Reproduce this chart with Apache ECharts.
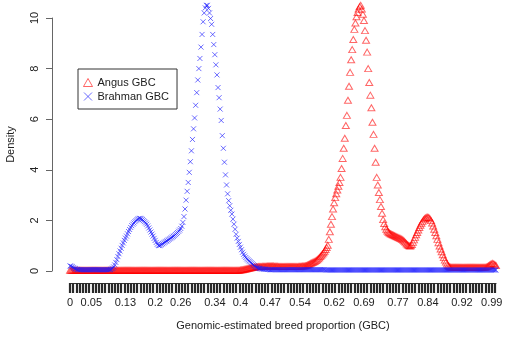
<!DOCTYPE html>
<html>
<head>
<meta charset="utf-8">
<script src="https://cdn.jsdelivr.net/npm/echarts@6/dist/echarts.min.js"></script>
<style>html,body{margin:0;padding:0;background:#fff}#c{width:505px;height:338px}</style>
</head>
<body>
<div id="c"></div>
<script>
// x tick label positions (value axis)
const xTickLabels = [0, 0.05, 0.13, 0.2, 0.26, 0.34, 0.4, 0.47, 0.54, 0.62, 0.69, 0.77, 0.84, 0.92, 0.99];
const yTicks = [0, 2, 4, 6, 8, 10];
// rug-like axis ticks every 0.0075
const rugStep = 0.0075, rugCount = 134;
const rugTicks = [];
for (let k = 0; k < rugCount; k++) rugTicks.push(+(k * rugStep).toFixed(4));

// Angus GBC density [x, y]
const angus = [
[0,0.03],[0.0025,0.03],[0.005,0.03],[0.0075,0.03],[0.01,0.03],[0.0125,0.03],[0.015,0.03],[0.0175,0.03],[0.02,0.03],[0.0225,0.03],
[0.025,0.03],[0.0275,0.03],[0.03,0.03],[0.0325,0.03],[0.035,0.03],[0.0375,0.03],[0.04,0.03],[0.0425,0.03],[0.045,0.03],[0.0475,0.03],
[0.05,0.03],[0.0525,0.03],[0.055,0.03],[0.0575,0.03],[0.06,0.03],[0.0625,0.03],[0.065,0.03],[0.0675,0.03],[0.07,0.03],[0.0725,0.03],
[0.075,0.03],[0.0775,0.03],[0.08,0.03],[0.0825,0.03],[0.085,0.03],[0.0875,0.03],[0.09,0.03],[0.0925,0.03],[0.095,0.03],[0.0975,0.03],
[0.1,0.03],[0.1025,0.03],[0.105,0.03],[0.1075,0.03],[0.11,0.03],[0.1125,0.03],[0.115,0.03],[0.1175,0.03],[0.12,0.03],[0.1225,0.03],
[0.125,0.03],[0.1275,0.03],[0.13,0.03],[0.1325,0.03],[0.135,0.03],[0.1375,0.03],[0.14,0.03],[0.1425,0.03],[0.145,0.03],[0.1475,0.03],
[0.15,0.03],[0.1525,0.03],[0.155,0.03],[0.1575,0.03],[0.16,0.03],[0.1625,0.03],[0.165,0.03],[0.1675,0.03],[0.17,0.03],[0.1725,0.03],
[0.175,0.03],[0.1775,0.03],[0.18,0.03],[0.1825,0.03],[0.185,0.03],[0.1875,0.03],[0.19,0.03],[0.1925,0.03],[0.195,0.03],[0.1975,0.03],
[0.2,0.03],[0.2025,0.03],[0.205,0.03],[0.2075,0.03],[0.21,0.03],[0.2125,0.03],[0.215,0.03],[0.2175,0.03],[0.22,0.03],[0.2225,0.03],
[0.225,0.03],[0.2275,0.03],[0.23,0.03],[0.2325,0.03],[0.235,0.03],[0.2375,0.03],[0.24,0.03],[0.2425,0.03],[0.245,0.03],[0.2475,0.03],
[0.25,0.03],[0.2525,0.03],[0.255,0.03],[0.2575,0.03],[0.26,0.03],[0.2625,0.03],[0.265,0.03],[0.2675,0.03],[0.27,0.03],[0.2725,0.03],
[0.275,0.03],[0.2775,0.03],[0.28,0.03],[0.2825,0.03],[0.285,0.03],[0.2875,0.03],[0.29,0.03],[0.2925,0.03],[0.295,0.03],[0.2975,0.03],
[0.3,0.03],[0.3025,0.03],[0.305,0.03],[0.3075,0.03],[0.31,0.03],[0.3125,0.03],[0.315,0.03],[0.3175,0.03],[0.32,0.03],[0.3225,0.03],
[0.325,0.03],[0.3275,0.03],[0.33,0.03],[0.3325,0.03],[0.335,0.03],[0.3375,0.03],[0.34,0.03],[0.3425,0.03],[0.345,0.03],[0.3475,0.03],
[0.35,0.03],[0.3525,0.03],[0.355,0.03],[0.3575,0.03],[0.36,0.03],[0.3625,0.03],[0.365,0.03],[0.3675,0.03],[0.37,0.03],[0.3725,0.03],
[0.375,0.03],[0.3775,0.03],[0.38,0.03],[0.3825,0.03],[0.385,0.03],[0.3875,0.03],[0.39,0.03],[0.3925,0.03],[0.395,0.03],[0.3975,0.03],
[0.4,0.04],[0.4025,0.045],[0.405,0.05],[0.4075,0.06],[0.41,0.07],[0.4125,0.08],[0.415,0.09],[0.4175,0.1],[0.42,0.11],[0.4225,0.12],
[0.425,0.13],[0.4275,0.14],[0.43,0.15],[0.4325,0.155],[0.435,0.16],[0.4375,0.165],[0.44,0.17],[0.4425,0.175],[0.445,0.18],[0.4475,0.18],
[0.45,0.18],[0.4525,0.185],[0.455,0.19],[0.4575,0.19],[0.46,0.19],[0.4625,0.195],[0.465,0.2],[0.4675,0.2],[0.47,0.2],[0.4725,0.2],
[0.475,0.2],[0.4775,0.195],[0.48,0.19],[0.4825,0.19],[0.485,0.19],[0.4875,0.185],[0.49,0.18],[0.4925,0.18],[0.495,0.18],[0.4975,0.18],
[0.5,0.18],[0.5025,0.18],[0.505,0.18],[0.5075,0.18],[0.51,0.18],[0.5125,0.18],[0.515,0.18],[0.5175,0.18],[0.52,0.18],[0.5225,0.18],
[0.525,0.18],[0.5275,0.18],[0.53,0.18],[0.5325,0.18],[0.535,0.18],[0.5375,0.185],[0.54,0.19],
[0.5425,0.19],[0.545,0.2],[0.5475,0.2],[0.55,0.2],[0.5525,0.21],[0.555,0.22],[0.5575,0.24],[0.56,0.26],[0.5625,0.28],[0.565,0.3],
[0.5675,0.32],[0.57,0.34],[0.5725,0.36],[0.575,0.38],[0.5775,0.41],[0.58,0.44],[0.5825,0.48],[0.585,0.52],[0.5875,0.57],[0.59,0.62],
[0.5925,0.67],[0.595,0.72],[0.5975,0.78],[0.6,0.85],[0.6025,0.93],[0.605,1.02],[0.6075,1.25],[0.61,1.55],[0.6125,1.85],[0.615,2.15],
[0.6175,2.45],[0.62,2.7],[0.6225,2.9],[0.625,3.05],[0.6275,3.2],[0.63,3.35],[0.6325,3.5],[0.635,3.7],[0.6375,4.05],[0.64,4.45],
[0.6425,4.85],[0.645,5.25],[0.6475,5.75],[0.65,6.15],[0.6525,6.75],[0.655,7.3],[0.6575,7.85],[0.66,8.35],[0.6625,8.75],[0.665,9.15],
[0.6675,9.55],[0.67,9.8],[0.6725,10.05],[0.675,10.22],[0.6775,10.35],[0.68,10.45],[0.6825,10.5],[0.685,10.35],[0.6875,10.15],[0.69,9.9],
[0.6925,9.5],[0.695,9.12],[0.6975,8.65],[0.7,8.0],[0.7025,7.45],[0.705,6.95],[0.7075,6.45],[0.71,5.88],[0.7125,5.4],[0.715,4.85],
[0.7175,4.3],[0.72,3.7],[0.7225,3.4],[0.725,3.1],[0.7275,2.82],[0.73,2.55],[0.7325,2.28],[0.735,2.03],[0.7375,1.88],[0.74,1.75],
[0.7425,1.65],[0.745,1.58],[0.7475,1.53],[0.75,1.5],[0.7525,1.47],[0.755,1.45],[0.7575,1.43],[0.76,1.41],[0.7625,1.39],[0.765,1.37],
[0.7675,1.35],[0.77,1.33],[0.7725,1.31],[0.775,1.29],[0.7775,1.27],[0.78,1.24],[0.7825,1.21],[0.785,1.17],[0.7875,1.13],[0.79,1.08],
[0.7925,1.04],[0.795,1.01],[0.7975,0.99],[0.8,1.0],[0.8025,1.05],[0.805,1.13],[0.8075,1.23],[0.81,1.33],[0.8125,1.43],[0.815,1.52],
[0.8175,1.62],[0.82,1.72],[0.8225,1.81],[0.825,1.89],[0.8275,1.96],[0.83,2.02],[0.8325,2.07],[0.835,2.1],[0.8375,2.12],[0.84,2.13],
[0.8425,2.11],[0.845,2.06],[0.8475,1.99],[0.85,1.9],[0.8525,1.78],[0.855,1.65],[0.8575,1.52],[0.86,1.39],[0.8625,1.25],[0.865,1.12],
[0.8675,0.99],[0.87,0.87],[0.8725,0.76],[0.875,0.64],[0.8775,0.53],[0.88,0.43],[0.8825,0.35],[0.885,0.28],[0.8875,0.22],[0.89,0.18],
[0.8925,0.16],[0.895,0.15],[0.8975,0.15],[0.9,0.15],[0.9025,0.15],[0.905,0.15],[0.9075,0.15],[0.91,0.15],[0.9125,0.15],[0.915,0.15],
[0.9175,0.15],[0.92,0.15],[0.9225,0.15],[0.925,0.15],[0.9275,0.15],[0.93,0.15],[0.9325,0.15],[0.935,0.15],[0.9375,0.15],[0.94,0.15],
[0.9425,0.15],[0.945,0.15],[0.9475,0.15],[0.95,0.15],[0.9525,0.15],[0.955,0.15],[0.9575,0.15],[0.96,0.15],[0.9625,0.15],[0.965,0.15],
[0.9675,0.15],[0.97,0.15],[0.9725,0.15],[0.975,0.15],[0.9775,0.16],[0.98,0.18],
[0.9825,0.21],[0.985,0.24],[0.9875,0.27],[0.99,0.29],[0.9925,0.3],[0.995,0.28],[0.9975,0.25],[1,0.22]
];

// Brahman GBC density [x, y]
const brahman = [
[0,0.2],[0.0025,0.19],[0.005,0.17],[0.0075,0.14],[0.01,0.11],[0.0125,0.09],[0.015,0.07],[0.0175,0.06],[0.02,0.05],[0.0225,0.05],
[0.025,0.05],[0.0275,0.05],[0.03,0.05],[0.0325,0.05],[0.035,0.05],[0.0375,0.05],[0.04,0.05],[0.0425,0.05],[0.045,0.05],[0.0475,0.05],
[0.05,0.05],[0.0525,0.05],[0.055,0.05],[0.0575,0.05],[0.06,0.05],[0.0625,0.05],[0.065,0.05],[0.0675,0.05],[0.07,0.05],[0.0725,0.05],
[0.075,0.05],[0.0775,0.05],[0.08,0.05],[0.0825,0.05],[0.085,0.05],[0.0875,0.05],[0.09,0.05],
[0.0925,0.05],[0.095,0.06],[0.0975,0.08],[0.1,0.11],[0.1025,0.16],[0.105,0.24],[0.1075,0.34],[0.11,0.45],[0.1125,0.57],[0.115,0.68],
[0.1175,0.79],[0.12,0.9],[0.1225,1.01],[0.125,1.11],[0.1275,1.21],[0.13,1.3],[0.1325,1.38],[0.135,1.47],[0.1375,1.56],[0.14,1.64],
[0.1425,1.72],[0.145,1.79],[0.1475,1.85],[0.15,1.9],[0.1525,1.95],[0.155,1.99],[0.1575,2.03],[0.16,2.06],[0.1625,2.08],[0.165,2.08],
[0.1675,2.06],[0.17,2.03],[0.1725,1.99],[0.175,1.95],[0.1775,1.9],[0.18,1.85],[0.1825,1.78],[0.185,1.7],[0.1875,1.62],[0.19,1.54],
[0.1925,1.46],[0.195,1.38],[0.1975,1.29],[0.2,1.21],[0.2025,1.13],[0.205,1.06],[0.2075,1.01],[0.21,1.0],[0.2125,1.02],[0.215,1.05],
[0.2175,1.08],[0.22,1.11],[0.2225,1.14],[0.225,1.17],[0.2275,1.19],[0.23,1.22],[0.2325,1.25],[0.235,1.28],[0.2375,1.31],[0.24,1.34],
[0.2425,1.37],[0.245,1.4],[0.2475,1.44],[0.25,1.48],[0.2525,1.52],[0.255,1.57],[0.2575,1.62],[0.26,1.68],[0.2625,1.77],[0.265,1.92],
[0.2675,2.15],[0.27,2.45],[0.2725,2.8],[0.275,3.15],[0.2775,3.5],[0.28,3.9],[0.2825,4.32],[0.285,4.75],[0.2875,5.2],[0.29,5.62],
[0.2925,6.05],[0.295,6.55],[0.2975,7.05],[0.3,7.55],[0.3025,8.0],[0.305,8.4],[0.3075,8.85],[0.31,9.35],[0.3125,9.85],[0.315,10.2],
[0.3175,10.4],[0.32,10.5],[0.3225,10.5],[0.325,10.38],[0.3275,10.2],[0.33,9.98],[0.3325,9.75],[0.335,9.35],[0.3375,8.95],[0.34,8.55],
[0.3425,8.15],[0.345,7.75],[0.3475,7.25],[0.35,6.85],[0.3525,6.4],[0.355,5.95],[0.3575,5.35],[0.36,4.85],[0.3625,4.3],[0.365,3.8],
[0.3675,3.4],[0.37,3.05],[0.3725,2.78],[0.375,2.58],[0.3775,2.4],[0.38,2.25],[0.3825,2.05],[0.385,1.85],[0.3875,1.65],[0.39,1.45],
[0.3925,1.3],[0.395,1.17],[0.3975,1.05],[0.4,0.94],[0.4025,0.84],[0.405,0.74],[0.4075,0.66],[0.41,0.59],[0.4125,0.53],[0.415,0.48],
[0.4175,0.44],[0.42,0.4],[0.4225,0.37],[0.425,0.33],[0.4275,0.29],[0.43,0.25],[0.4325,0.21],[0.435,0.18],[0.4375,0.15],[0.44,0.13],
[0.4425,0.11],[0.445,0.1],[0.4475,0.09],[0.45,0.08],[0.4525,0.08],[0.455,0.07],[0.4575,0.07],[0.46,0.07],[0.4625,0.06],[0.465,0.06],
[0.4675,0.06],[0.47,0.05],[0.4725,0.05],[0.475,0.05],[0.4775,0.05],[0.48,0.05],[0.4825,0.05],[0.485,0.05],[0.4875,0.05],[0.49,0.05],
[0.4925,0.05],[0.495,0.05],[0.4975,0.05],[0.5,0.05],[0.5025,0.05],[0.505,0.05],[0.5075,0.05],[0.51,0.05],[0.5125,0.05],[0.515,0.05],
[0.5175,0.05],[0.52,0.05],[0.5225,0.05],[0.525,0.05],[0.5275,0.05],[0.53,0.05],[0.5325,0.05],[0.535,0.05],[0.5375,0.05],[0.54,0.05],
[0.5425,0.05],[0.545,0.05],[0.5475,0.05],[0.55,0.05],[0.5525,0.05],[0.555,0.05],[0.5575,0.05],[0.56,0.05],[0.5625,0.05],[0.565,0.05],
[0.5675,0.05],[0.57,0.05],[0.5725,0.05],[0.575,0.05],[0.5775,0.05],[0.58,0.05],[0.5825,0.05],[0.585,0.05],[0.5875,0.05],[0.59,0.05],
[0.5925,0.05],[0.595,0.05],[0.5975,0.05],[0.6,0.04],[0.6025,0.04],[0.605,0.04],[0.6075,0.04],[0.61,0.04],[0.6125,0.04],[0.615,0.04],
[0.6175,0.04],[0.62,0.04],[0.6225,0.04],[0.625,0.04],[0.6275,0.04],[0.63,0.04],[0.6325,0.04],[0.635,0.04],[0.6375,0.04],[0.64,0.04],
[0.6425,0.04],[0.645,0.04],[0.6475,0.04],[0.65,0.04],[0.6525,0.04],[0.655,0.04],[0.6575,0.04],[0.66,0.04],[0.6625,0.04],[0.665,0.04],
[0.6675,0.04],[0.67,0.04],[0.6725,0.04],[0.675,0.04],[0.6775,0.04],[0.68,0.04],[0.6825,0.04],[0.685,0.04],[0.6875,0.04],[0.69,0.04],
[0.6925,0.04],[0.695,0.04],[0.6975,0.04],[0.7,0.04],[0.7025,0.04],[0.705,0.04],[0.7075,0.04],[0.71,0.04],[0.7125,0.04],[0.715,0.04],
[0.7175,0.04],[0.72,0.04],[0.7225,0.04],[0.725,0.04],[0.7275,0.04],[0.73,0.04],[0.7325,0.04],[0.735,0.04],[0.7375,0.04],[0.74,0.04],
[0.7425,0.04],[0.745,0.04],[0.7475,0.04],[0.75,0.04],[0.7525,0.04],[0.755,0.04],[0.7575,0.04],[0.76,0.04],[0.7625,0.04],[0.765,0.04],
[0.7675,0.04],[0.77,0.04],[0.7725,0.04],[0.775,0.04],[0.7775,0.04],[0.78,0.04],[0.7825,0.04],[0.785,0.04],[0.7875,0.04],[0.79,0.04],
[0.7925,0.04],[0.795,0.04],[0.7975,0.04],[0.8,0.04],[0.8025,0.04],[0.805,0.04],[0.8075,0.04],[0.81,0.04],[0.8125,0.04],[0.815,0.04],
[0.8175,0.04],[0.82,0.04],[0.8225,0.04],[0.825,0.04],[0.8275,0.04],[0.83,0.04],[0.8325,0.04],[0.835,0.04],[0.8375,0.04],[0.84,0.04],
[0.8425,0.04],[0.845,0.04],[0.8475,0.04],[0.85,0.04],[0.8525,0.04],[0.855,0.04],[0.8575,0.04],[0.86,0.04],[0.8625,0.04],[0.865,0.04],
[0.8675,0.04],[0.87,0.04],[0.8725,0.04],[0.875,0.04],[0.8775,0.04],[0.88,0.04],[0.8825,0.04],[0.885,0.04],[0.8875,0.04],[0.89,0.04],
[0.8925,0.04],[0.895,0.04],[0.8975,0.04],[0.9,0.04],[0.9025,0.04],[0.905,0.04],[0.9075,0.04],[0.91,0.04],[0.9125,0.04],[0.915,0.04],
[0.9175,0.04],[0.92,0.04],[0.9225,0.04],[0.925,0.04],[0.9275,0.04],[0.93,0.04],[0.9325,0.04],[0.935,0.04],[0.9375,0.04],[0.94,0.04],
[0.9425,0.04],[0.945,0.04],[0.9475,0.04],[0.95,0.04],[0.9525,0.04],[0.955,0.04],[0.9575,0.04],[0.96,0.04],[0.9625,0.04],[0.965,0.04],
[0.9675,0.04],[0.97,0.04],[0.9725,0.04],[0.975,0.04],[0.9775,0.04],[0.98,0.04],[0.9825,0.04],[0.985,0.04],[0.9875,0.04],[0.99,0.04],
[0.9925,0.04],[0.995,0.04],[0.9975,0.04],[1,0.04]
];

const FONT = 'Liberation Sans, Arial, Helvetica, sans-serif';
const RED = 'rgba(255,0,0,0.75)';
const BLUE = 'rgba(25,25,255,0.8)';
const CROSS = 'path://M0,0L10,10M10,0L0,10';

const chart = echarts.init(document.getElementById('c'), null, {renderer: 'canvas'});
chart.setOption({
  animation: false,
  backgroundColor: '#fff',
  textStyle: {fontFamily: FONT},
  grid: {left: 70, right: 9, top: 18, bottom: 67, containLabel: false, outerBoundsMode: 'none'},
  legend: {
    orient: 'vertical', left: 78, top: 69,
    padding: [8, 8, 7, 5], itemGap: 3, itemWidth: 9, itemHeight: 8,
    borderColor: '#333', borderWidth: 1, borderRadius: 0,
    textStyle: {fontFamily: FONT, fontSize: 11, color: '#222'},
    data: [
      {name: 'Angus GBC', icon: 'triangle', itemStyle: {color: 'rgba(0,0,0,0)', borderColor: RED, borderWidth: 1}},
      {name: 'Brahman GBC', icon: CROSS, itemStyle: {color: 'rgba(0,0,0,0)', borderColor: BLUE, borderWidth: 1}}
    ]
  },
  xAxis: {
    type: 'value', min: 0, max: 1, offset: 12,
    name: 'Genomic-estimated breed proportion (GBC)', nameLocation: 'middle', nameGap: 37,
    nameTextStyle: {fontFamily: FONT, fontSize: 11, color: '#222'},
    axisLine: {show: true, onZero: false, lineStyle: {color: '#333', width: 1}},
    axisTick: {show: true, length: 10, customValues: rugTicks, lineStyle: {color: '#2a2a2a', width: 2.2}},
    axisLabel: {customValues: xTickLabels, margin: 14, fontFamily: FONT, fontSize: 11, color: '#222',
      formatter: v => String(+v.toFixed(2))},
    splitLine: {show: false}
  },
  yAxis: {
    type: 'value', min: 0, max: 10, interval: 2, offset: 18,
    name: 'Density', nameLocation: 'middle', nameGap: 36, nameRotate: 90,
    nameTextStyle: {fontFamily: FONT, fontSize: 11, color: '#222'},
    axisLine: {show: true, onZero: false, lineStyle: {color: '#666', width: 1}},
    axisTick: {show: true, length: 6, customValues: yTicks, lineStyle: {color: '#666', width: 1}},
    axisLabel: {customValues: yTicks, rotate: 90, margin: 12, fontFamily: FONT, fontSize: 11, color: '#222'},
    splitLine: {show: false}
  },
  series: [
    {
      name: 'Angus GBC', type: 'scatter', data: angus, clip: false, silent: true,
      symbol: 'triangle', symbolSize: [7, 6],
      itemStyle: {color: 'rgba(0,0,0,0)', borderColor: RED, borderWidth: 1}
    },
    {
      name: 'Brahman GBC', type: 'scatter', data: brahman, clip: false, silent: true,
      symbol: CROSS, symbolSize: 5,
      itemStyle: {color: 'rgba(0,0,0,0)', borderColor: BLUE, borderWidth: 1}
    }
  ]
});
</script>
</body>
</html>
